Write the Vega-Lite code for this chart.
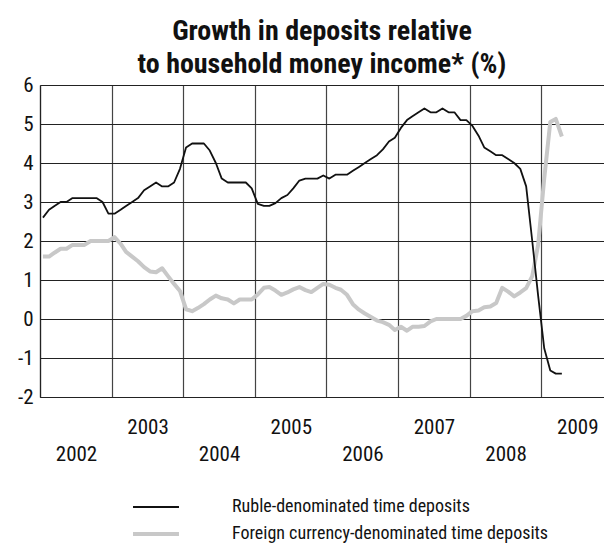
{
  "$schema": "https://vega.github.io/schema/vega-lite/v6.json",
  "width": 564,
  "height": 312,
  "autosize": {"type": "none"},
  "padding": {"left": 40, "top": 85, "right": 0, "bottom": 146},
  "background": "white",
  "config": {"font": "Roboto Condensed, Roboto, sans-serif", "view": {"stroke": null}},
  "title": {
    "text": ["Growth in deposits relative", "to household money income* (%)"],
    "fontSize": 28, "fontWeight": "bold", "lineHeight": 33, "anchor": "middle", "offset": -5, "color": "#111111"
  },
  "data": {"values": [
    {"month": "2002-01-16", "ruble": 2.6, "foreign": 1.6},
    {"month": "2002-02-16", "ruble": 2.8, "foreign": 1.6},
    {"month": "2002-03-16", "ruble": 2.9, "foreign": 1.7},
    {"month": "2002-04-16", "ruble": 3.0, "foreign": 1.8},
    {"month": "2002-05-16", "ruble": 3.0, "foreign": 1.8},
    {"month": "2002-06-16", "ruble": 3.1, "foreign": 1.9},
    {"month": "2002-07-16", "ruble": 3.1, "foreign": 1.9},
    {"month": "2002-08-16", "ruble": 3.1, "foreign": 1.9},
    {"month": "2002-09-16", "ruble": 3.1, "foreign": 2.0},
    {"month": "2002-10-16", "ruble": 3.1, "foreign": 2.0},
    {"month": "2002-11-16", "ruble": 3.0, "foreign": 2.0},
    {"month": "2002-12-16", "ruble": 2.7, "foreign": 2.0},
    {"month": "2003-01-16", "ruble": 2.7, "foreign": 2.1},
    {"month": "2003-02-16", "ruble": 2.8, "foreign": 1.93},
    {"month": "2003-03-16", "ruble": 2.9, "foreign": 1.72},
    {"month": "2003-04-16", "ruble": 3.0, "foreign": 1.6},
    {"month": "2003-05-16", "ruble": 3.1, "foreign": 1.48},
    {"month": "2003-06-16", "ruble": 3.3, "foreign": 1.33},
    {"month": "2003-07-16", "ruble": 3.4, "foreign": 1.22},
    {"month": "2003-08-16", "ruble": 3.5, "foreign": 1.2},
    {"month": "2003-09-16", "ruble": 3.4, "foreign": 1.3},
    {"month": "2003-10-16", "ruble": 3.4, "foreign": 1.1},
    {"month": "2003-11-16", "ruble": 3.5, "foreign": 0.9},
    {"month": "2003-12-16", "ruble": 3.85, "foreign": 0.72},
    {"month": "2004-01-16", "ruble": 4.4, "foreign": 0.25},
    {"month": "2004-02-16", "ruble": 4.5, "foreign": 0.2},
    {"month": "2004-03-16", "ruble": 4.5, "foreign": 0.28},
    {"month": "2004-04-16", "ruble": 4.5, "foreign": 0.38},
    {"month": "2004-05-16", "ruble": 4.32, "foreign": 0.5},
    {"month": "2004-06-16", "ruble": 4.0, "foreign": 0.6},
    {"month": "2004-07-16", "ruble": 3.6, "foreign": 0.53},
    {"month": "2004-08-16", "ruble": 3.5, "foreign": 0.5},
    {"month": "2004-09-16", "ruble": 3.5, "foreign": 0.4},
    {"month": "2004-10-16", "ruble": 3.5, "foreign": 0.5},
    {"month": "2004-11-16", "ruble": 3.5, "foreign": 0.5},
    {"month": "2004-12-16", "ruble": 3.35, "foreign": 0.5},
    {"month": "2005-01-16", "ruble": 2.95, "foreign": 0.63},
    {"month": "2005-02-16", "ruble": 2.9, "foreign": 0.8},
    {"month": "2005-03-16", "ruble": 2.9, "foreign": 0.82},
    {"month": "2005-04-16", "ruble": 2.97, "foreign": 0.73},
    {"month": "2005-05-16", "ruble": 3.1, "foreign": 0.62},
    {"month": "2005-06-16", "ruble": 3.18, "foreign": 0.68},
    {"month": "2005-07-16", "ruble": 3.35, "foreign": 0.76},
    {"month": "2005-08-16", "ruble": 3.55, "foreign": 0.82},
    {"month": "2005-09-16", "ruble": 3.6, "foreign": 0.74},
    {"month": "2005-10-16", "ruble": 3.6, "foreign": 0.69},
    {"month": "2005-11-16", "ruble": 3.6, "foreign": 0.8},
    {"month": "2005-12-16", "ruble": 3.68, "foreign": 0.9},
    {"month": "2006-01-16", "ruble": 3.6, "foreign": 0.88},
    {"month": "2006-02-16", "ruble": 3.7, "foreign": 0.8},
    {"month": "2006-03-16", "ruble": 3.7, "foreign": 0.75},
    {"month": "2006-04-16", "ruble": 3.7, "foreign": 0.62},
    {"month": "2006-05-16", "ruble": 3.8, "foreign": 0.38},
    {"month": "2006-06-16", "ruble": 3.9, "foreign": 0.24},
    {"month": "2006-07-16", "ruble": 4.0, "foreign": 0.14},
    {"month": "2006-08-16", "ruble": 4.1, "foreign": 0.05},
    {"month": "2006-09-16", "ruble": 4.2, "foreign": -0.04},
    {"month": "2006-10-16", "ruble": 4.35, "foreign": -0.08},
    {"month": "2006-11-16", "ruble": 4.55, "foreign": -0.15},
    {"month": "2006-12-16", "ruble": 4.65, "foreign": -0.28},
    {"month": "2007-01-16", "ruble": 4.9, "foreign": -0.2},
    {"month": "2007-02-16", "ruble": 5.1, "foreign": -0.3},
    {"month": "2007-03-16", "ruble": 5.2, "foreign": -0.2},
    {"month": "2007-04-16", "ruble": 5.3, "foreign": -0.2},
    {"month": "2007-05-16", "ruble": 5.4, "foreign": -0.18},
    {"month": "2007-06-16", "ruble": 5.3, "foreign": -0.06},
    {"month": "2007-07-16", "ruble": 5.3, "foreign": 0.0},
    {"month": "2007-08-16", "ruble": 5.4, "foreign": 0.0},
    {"month": "2007-09-16", "ruble": 5.3, "foreign": 0.0},
    {"month": "2007-10-16", "ruble": 5.3, "foreign": 0.0},
    {"month": "2007-11-16", "ruble": 5.1, "foreign": 0.0},
    {"month": "2007-12-16", "ruble": 5.1, "foreign": 0.08},
    {"month": "2008-01-16", "ruble": 4.95, "foreign": 0.2},
    {"month": "2008-02-16", "ruble": 4.7, "foreign": 0.22},
    {"month": "2008-03-16", "ruble": 4.4, "foreign": 0.3},
    {"month": "2008-04-16", "ruble": 4.3, "foreign": 0.32},
    {"month": "2008-05-16", "ruble": 4.2, "foreign": 0.41},
    {"month": "2008-06-16", "ruble": 4.2, "foreign": 0.8},
    {"month": "2008-07-16", "ruble": 4.1, "foreign": 0.7},
    {"month": "2008-08-16", "ruble": 4.0, "foreign": 0.58},
    {"month": "2008-09-16", "ruble": 3.85, "foreign": 0.68},
    {"month": "2008-10-16", "ruble": 3.4, "foreign": 0.79},
    {"month": "2008-11-16", "ruble": 2.0, "foreign": 1.1},
    {"month": "2008-12-16", "ruble": 0.6, "foreign": 1.9},
    {"month": "2009-01-16", "ruble": -0.75, "foreign": 3.6},
    {"month": "2009-02-16", "ruble": -1.32, "foreign": 5.05},
    {"month": "2009-03-16", "ruble": -1.4, "foreign": 5.13},
    {"month": "2009-04-16", "ruble": -1.4, "foreign": 4.68}
  ]},
  "transform": [{"fold": ["foreign", "ruble"], "as": ["series", "value"]}],
  "encoding": {
    "x": {
      "field": "month", "type": "temporal",
      "scale": {"type": "utc", "domain": [{"year": 2002, "month": 1, "date": 1, "utc": true}, {"year": 2009, "month": 11, "date": 17, "utc": true}]},
      "axis": {
        "title": null,
        "values": [
          {"year": 2002, "month": 1, "date": 1, "utc": true},
          {"year": 2003, "month": 1, "date": 1, "utc": true},
          {"year": 2004, "month": 1, "date": 1, "utc": true},
          {"year": 2005, "month": 1, "date": 1, "utc": true},
          {"year": 2006, "month": 1, "date": 1, "utc": true},
          {"year": 2007, "month": 1, "date": 1, "utc": true},
          {"year": 2008, "month": 1, "date": 1, "utc": true},
          {"year": 2009, "month": 1, "date": 1, "utc": true}
        ],
        "labelExpr": "utcyear(datum.value) % 2 == 0 ? ['', '' + utcyear(datum.value)] : '' + utcyear(datum.value)",
        "labelLineHeight": 27,
        "grid": true, "gridColor": "#444444", "gridWidth": 1.2,
        "ticks": false, "domain": true, "domainColor": "#222222", "domainWidth": 1.2,
        "labelOffset": 36, "labelPadding": 19, "labelFontSize": 21, "labelColor": "#111111",
        "labelAlign": "center", "labelFlush": false, "labelOverlap": false, "labelBound": false
      }
    },
    "y": {
      "field": "value", "type": "quantitative",
      "scale": {"domain": [-2, 6]},
      "axis": {
        "title": null, "values": [-2, -1, 0, 1, 2, 3, 4, 5, 6],
        "labelExpr": "'' + datum.value",
        "ticks": false, "labelPadding": 7, "labelFontSize": 21, "labelColor": "#111111",
        "domainColor": "#222222", "domainWidth": 1.2, "gridColor": "#222222", "gridWidth": 1.2, "labelFlush": false
      }
    },
    "color": {
      "field": "series", "type": "nominal",
      "scale": {"domain": ["ruble", "foreign"], "range": ["#111111", "#c8c8c8"]},
      "legend": {
        "title": null, "orient": "none", "legendX": 107, "legendY": 413, "padding": 0,
        "symbolType": "M-4,0H4", "symbolSize": 132, "labelFontSize": 18, "labelOffset": 67, "rowPadding": 9,
        "labelColor": "#111111", "labelLimit": 500,
        "labelExpr": "datum.value == 'ruble' ? 'Ruble-denominated time deposits' : 'Foreign currency-denominated time deposits'"
      }
    },
    "strokeWidth": {
      "field": "series", "type": "nominal",
      "scale": {"domain": ["ruble", "foreign"], "range": [1.8, 4]},
      "legend": {
        "title": null, "orient": "none", "legendX": 107, "legendY": 413, "padding": 0,
        "symbolType": "M-4,0H4", "symbolSize": 132, "labelFontSize": 18, "labelOffset": 67, "rowPadding": 9,
        "labelColor": "#111111", "labelLimit": 500,
        "labelExpr": "datum.value == 'ruble' ? 'Ruble-denominated time deposits' : 'Foreign currency-denominated time deposits'"
      }
    }
  },
  "layer": [
    {"transform": [{"filter": "datum.series == 'foreign'"}], "mark": {"type": "line", "strokeJoin": "round"}},
    {"transform": [{"filter": "datum.series == 'ruble'"}], "mark": {"type": "line", "strokeJoin": "round"}}
  ]
}
